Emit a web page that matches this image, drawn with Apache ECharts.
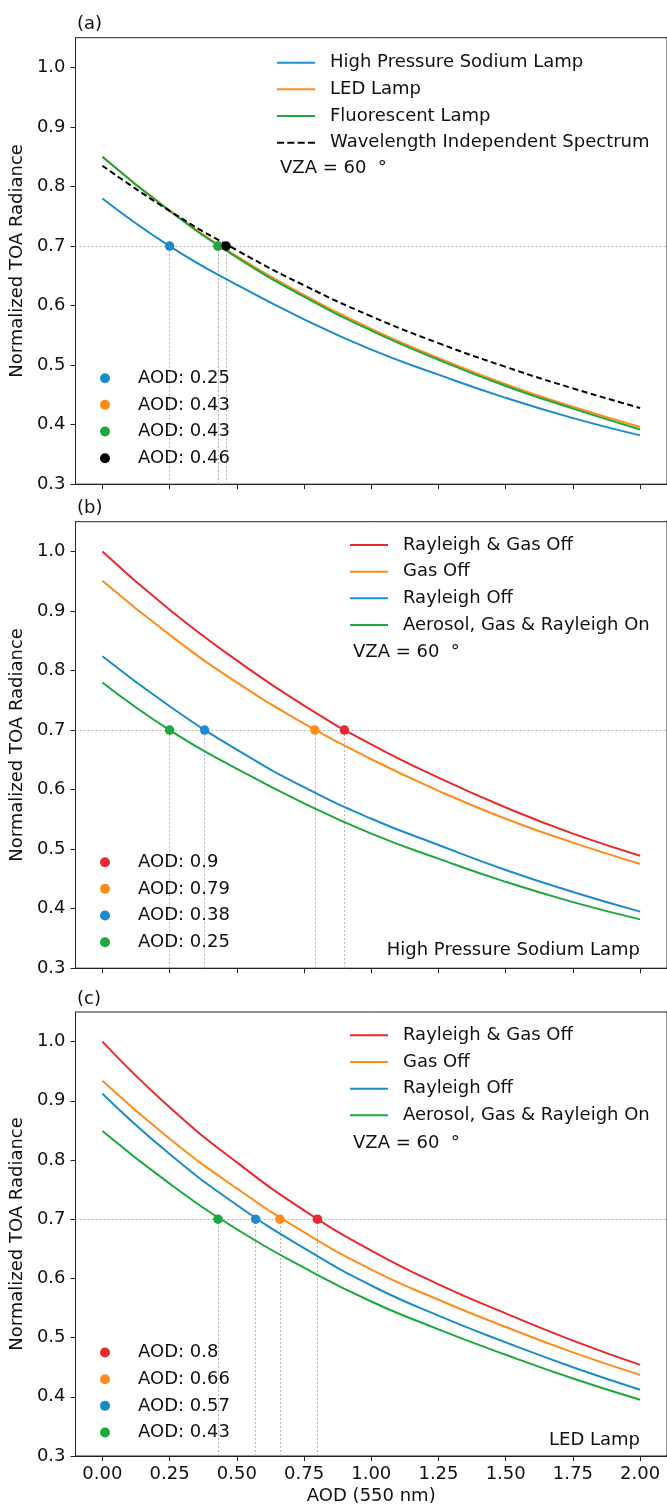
<!DOCTYPE html>
<html><head><meta charset="utf-8">
<script src="https://cdn.jsdelivr.net/npm/echarts@6/dist/echarts.min.js"></script>
<style>html,body{margin:0;padding:0;background:#fff}#c{width:667px;height:1506px}</style>
</head><body><div id="c"></div>
<script>
// ---------------- data ----------------
const aodSamples = [0, 0.25, 0.5, 0.75, 1.0, 1.25, 1.5, 1.75, 2.0];
const xTickValues = [0, 0.25, 0.5, 0.75, 1.0, 1.25, 1.5, 1.75, 2.0];
const yTickValues = [0.3, 0.4, 0.5, 0.6, 0.7, 0.8, 0.9, 1.0];
const refRadiance = 0.7;

// panel (a)
const namesA = ['High Pressure Sodium Lamp', 'LED Lamp', 'Fluorescent Lamp', 'Wavelength Independent Spectrum'];
const hpsA = [0.780, 0.700, 0.635, 0.577, 0.526, 0.484, 0.445, 0.411, 0.382];
const ledA = [0.850, 0.760, 0.683, 0.618, 0.561, 0.512, 0.468, 0.430, 0.396];
const fluA = [0.850, 0.759, 0.681, 0.615, 0.558, 0.509, 0.465, 0.427, 0.392];
const wisA = [0.835, 0.759, 0.693, 0.634, 0.582, 0.537, 0.497, 0.461, 0.428];
const dotsA = [0.25, 0.43, 0.43, 0.46];

// panel (b) High Pressure Sodium Lamp
const namesBC = ['Rayleigh & Gas Off', 'Gas Off', 'Rayleigh Off', 'Aerosol, Gas & Rayleigh On'];
const rgOffB = [1.000, 0.902, 0.817, 0.741, 0.676, 0.620, 0.570, 0.526, 0.489];
const gasOffB = [0.951, 0.860, 0.780, 0.711, 0.651, 0.598, 0.551, 0.511, 0.475];
const rayOffB = [0.824, 0.740, 0.667, 0.604, 0.551, 0.507, 0.465, 0.428, 0.395];
const allOnB = [0.780, 0.700, 0.635, 0.577, 0.526, 0.484, 0.445, 0.411, 0.382];
const dotsB = [0.9, 0.79, 0.38, 0.25];

// panel (c) LED Lamp
const rgOffC = [1.000, 0.889, 0.796, 0.715, 0.647, 0.590, 0.541, 0.495, 0.454];
const gasOffC = [0.934, 0.836, 0.752, 0.678, 0.615, 0.564, 0.518, 0.475, 0.437];
const rayOffC = [0.912, 0.810, 0.724, 0.651, 0.588, 0.537, 0.492, 0.450, 0.412];
const allOnC = [0.849, 0.760, 0.683, 0.618, 0.561, 0.514, 0.471, 0.431, 0.395];
const dotsC = [0.8, 0.66, 0.57, 0.43];

const panelLabels = ['(a)', '(b)', '(c)'];
const lampLabels = ['', 'High Pressure Sodium Lamp', 'LED Lamp'];
const vzaLabel = 'VZA = 60  °';
const yTitle = 'Normalized TOA Radiance';
const xTitle = 'AOD (550 nm)';

// ---------------- style / layout ----------------
const FONT = '"DejaVu Sans", sans-serif';
const C = {blue: '#1a8ccc', orange: '#ff8c1a', green: '#1ba83c', red: '#e8292f', black: '#000000'};
const gridLeft = 71, gridH = 446.5;
const tops = [37.7, 521.7, 1012];
const legendLineLeft = [277, 350, 350];
const legendLineTop = [25, 23.3, 23.3];
const SOLID_ICON = 'path://M0,0h38v2h-38z';
const DASH_ICON = 'path://M0,0h7v2h-7z M10.3,0h7v2h-7z M20.6,0h7v2h-7z M30.9,0h7v2h-7z';

const panels = [
  {curves: [
    {name: namesA[0], data: hpsA, color: C.blue},
    {name: namesA[1], data: ledA, color: C.orange},
    {name: namesA[2], data: fluA, color: C.green},
    {name: namesA[3], data: wisA, color: C.black, dash: true}
  ], dots: dotsA, dotColors: [C.blue, C.orange, C.green, C.black]},
  {curves: [
    {name: namesBC[0], data: rgOffB, color: C.red},
    {name: namesBC[1], data: gasOffB, color: C.orange},
    {name: namesBC[2], data: rayOffB, color: C.blue},
    {name: namesBC[3], data: allOnB, color: C.green}
  ], dots: dotsB, dotColors: [C.red, C.orange, C.blue, C.green]},
  {curves: [
    {name: namesBC[0], data: rgOffC, color: C.red},
    {name: namesBC[1], data: gasOffC, color: C.orange},
    {name: namesBC[2], data: rayOffC, color: C.blue},
    {name: namesBC[3], data: allOnC, color: C.green}
  ], dots: dotsC, dotColors: [C.red, C.orange, C.blue, C.green]}
];

const grids = [], xAxes = [], yAxes = [], series = [], legends = [], graphics = [];
const dotLabel = {};

panels.forEach((p, i) => {
  const top = tops[i];
  grids.push({left: gridLeft, right: -1, top: top, height: gridH, show: true,
    borderColor: '#222', borderWidth: 1, backgroundColor: 'transparent'});
  xAxes.push({type: 'value', gridIndex: i, min: -0.1, max: 2.1,
    axisLine: {show: true, onZero: false, lineStyle: {color: '#222', width: 1}},
    axisTick: {show: true, length: 5, inside: false, customValues: xTickValues, lineStyle: {color: '#222'}},
    axisLabel: {show: i === 2, customValues: xTickValues, margin: 9, color: '#111',
      fontFamily: FONT, fontSize: 18, formatter: v => v.toFixed(2)},
    splitLine: {show: false},
    name: i === 2 ? xTitle : '', nameLocation: 'middle', nameGap: 31,
    nameTextStyle: {fontFamily: FONT, fontSize: 18, color: '#111'}});
  yAxes.push({type: 'value', gridIndex: i, min: 0.3, max: 1.05,
    axisLine: {show: true, onZero: false, lineStyle: {color: '#222', width: 1}},
    axisTick: {show: true, length: 5, customValues: yTickValues, lineStyle: {color: '#222'}},
    axisLabel: {customValues: yTickValues, margin: 10, color: '#111', fontFamily: FONT, fontSize: 18,
      formatter: v => v.toFixed(1)},
    splitLine: {show: false},
    name: yTitle, nameLocation: 'middle', nameGap: 43,
    nameTextStyle: {fontFamily: FONT, fontSize: 18, color: '#111'}});

  const lineItems = [];
  p.curves.forEach(c => {
    const nm = i + '|' + c.name;
    lineItems.push({name: nm, icon: c.dash ? DASH_ICON : SOLID_ICON});
    series.push({type: 'line', name: nm, xAxisIndex: i, yAxisIndex: i,
      data: aodSamples.map((x, k) => [x, c.data[k]]),
      symbol: 'none', showSymbol: false, smooth: 0.5, z: 3,
      color: c.color,
      lineStyle: {color: c.color, width: 2, type: c.dash ? [6, 3.5] : 'solid'},
      emphasis: {disabled: true}, silent: true});
  });

  const dotNames = [];
  p.dots.forEach((a, k) => {
    const nm = i + '|dot|' + k;
    dotNames.push(nm);
    dotLabel[nm] = 'AOD: ' + a;
    const ml = [[{coord: [a, 0.3]}, {coord: [a, refRadiance]}]];
    if (k === 0) ml.push({yAxis: refRadiance});
    series.push({type: 'scatter', name: nm, xAxisIndex: i, yAxisIndex: i,
      data: [[a, refRadiance]], symbol: 'circle', symbolSize: 9.5, z: 5 + k,
      color: p.dotColors[k], itemStyle: {color: p.dotColors[k], opacity: 1},
      emphasis: {disabled: true}, silent: true,
      markLine: {silent: true, symbol: ['none', 'none'], label: {show: false}, z: 1,
        lineStyle: {color: '#b4b4b4', width: 1, type: [2, 2]}, emphasis: {disabled: true},
        data: ml}});
  });

  legends.push({data: lineItems, orient: 'vertical', left: legendLineLeft[i], top: top + legendLineTop[i] - 9,
    padding: 0, itemGap: 8.67, itemWidth: 38, itemHeight: 2, selectedMode: false,
    formatter: n => n.split('|')[1],
    textStyle: {fontFamily: FONT, fontSize: 18, color: '#111', lineHeight: 18, padding: [0, 0, 0, 10]}});
  legends.push({data: dotNames, orient: 'vertical', left: 100, top: top + gridH - 106 - 9,
    padding: 0, itemGap: 8.67, itemWidth: 10, itemHeight: 10, icon: 'circle', selectedMode: false,
    itemStyle: {opacity: 1},
    formatter: n => dotLabel[n],
    textStyle: {fontFamily: FONT, fontSize: 18, color: '#111', lineHeight: 18, padding: [0, 0, 0, 23]}});

  graphics.push({type: 'text', x: 77, y: top - 13, style: {text: panelLabels[i], font: '18px ' + FONT,
    fill: '#111', verticalAlign: 'middle', align: 'left'}});
  graphics.push({type: 'text', x: legendLineLeft[i] + 3, y: top + 131, style: {text: vzaLabel, font: '18px ' + FONT,
    fill: '#111', verticalAlign: 'middle', align: 'left'}});
  if (lampLabels[i]) {
    graphics.push({type: 'text', x: 640, y: top + gridH - 18, style: {text: lampLabels[i], font: '18px ' + FONT,
      fill: '#111', verticalAlign: 'middle', align: 'right'}});
  }
});

const chart = echarts.init(document.getElementById('c'), null, {renderer: 'canvas'});
chart.setOption({
  animation: false,
  backgroundColor: '#ffffff',
  textStyle: {fontFamily: FONT},
  grid: grids, xAxis: xAxes, yAxis: yAxes, series: series, legend: legends,
  graphic: graphics
});
</script></body></html>
